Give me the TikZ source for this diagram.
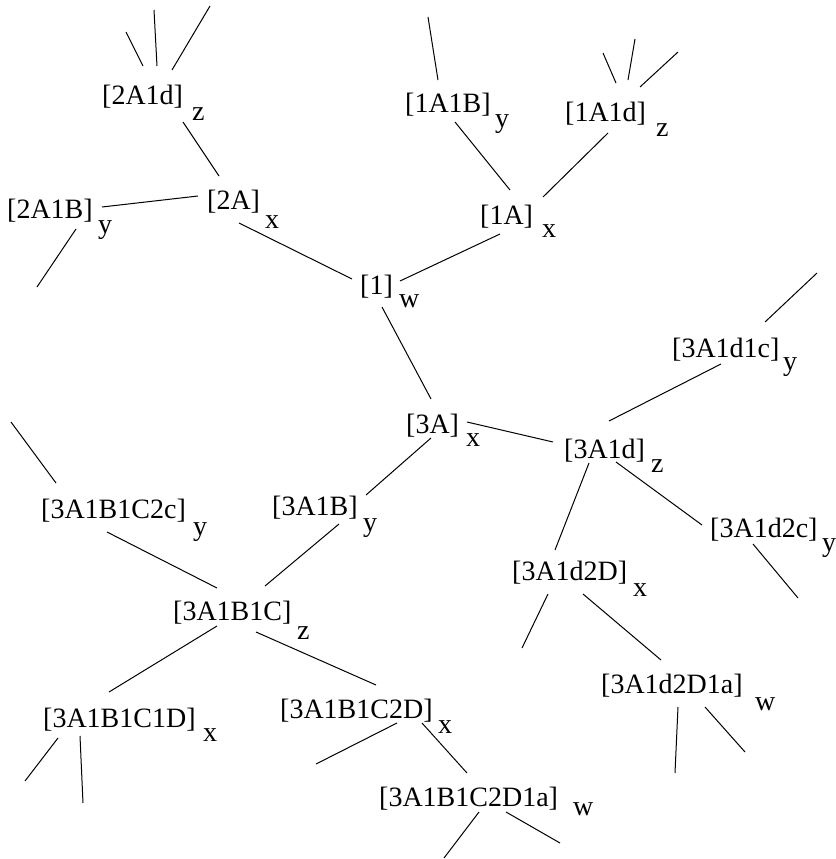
\documentclass[tikz,border=0pt]{standalone}
\usepackage{fontspec}
\setmainfont{Liberation Serif}
\begin{document}
\begin{tikzpicture}[x=1pt,y=-1pt,
  lbl/.style={anchor=base west,inner sep=0pt,font=\fontsize{28}{30}\selectfont},
  edge/.style={line width=1pt}]
\useasboundingbox (0,0) rectangle (835,859);

% vertex labels
\node[lbl] (n1)          at (360,294) {[1]};
\node[lbl] (n1s)         at (399,307) {w};
\node[lbl] (n1A)         at (480,224) {[1A]};
\node[lbl] (n1As)        at (542,237) {x};
\node[lbl] (n2A)         at (207,209) {[2A]};
\node[lbl] (n2As)        at (265,228) {x};
\node[lbl] (n1A1B)       at (405,112) {[1A1B]};
\node[lbl] (n1A1Bs)      at (495,127) {y};
\node[lbl] (n1A1d)       at (565,121) {[1A1d]};
\node[lbl] (n1A1ds)      at (656,136) {z};
\node[lbl] (n2A1d)       at (102,104) {[2A1d]};
\node[lbl] (n2A1ds)      at (192,120) {z};
\node[lbl] (n2A1B)       at (7,218)   {[2A1B]};
\node[lbl] (n2A1Bs)      at (98,233)  {y};
\node[lbl] (n3A)         at (406,433) {[3A]};
\node[lbl] (n3As)        at (466,446) {x};
\node[lbl] (n3A1d)       at (564,458) {[3A1d]};
\node[lbl] (n3A1ds)      at (651,472) {z};
\node[lbl] (n3A1d1c)     at (672,357) {[3A1d1c]};
\node[lbl] (n3A1d1cs)    at (783,370) {y};
\node[lbl] (n3A1d2c)     at (710,537) {[3A1d2c]};
\node[lbl] (n3A1d2cs)    at (822,551) {y};
\node[lbl] (n3A1d2D)     at (512,580) {[3A1d2D]};
\node[lbl] (n3A1d2Ds)    at (633,596) {x};
\node[lbl] (n3A1d2D1a)   at (601,693) {[3A1d2D1a]};
\node[lbl] (n3A1d2D1as)  at (755,710) {w};
\node[lbl] (n3A1B)       at (272,515) {[3A1B]};
\node[lbl] (n3A1Bs)      at (363,531) {y};
\node[lbl] (n3A1B1C)     at (173,620) {[3A1B1C]};
\node[lbl] (n3A1B1Cs)    at (297,639) {z};
\node[lbl] (n3A1B1C2c)   at (41,518)  {[3A1B1C2c]};
\node[lbl] (n3A1B1C2cs)  at (193,535) {y};
\node[lbl] (n3A1B1C1D)   at (43,727)  {[3A1B1C1D]};
\node[lbl] (n3A1B1C1Ds)  at (203,741) {x};
\node[lbl] (n3A1B1C2D)   at (280,718) {[3A1B1C2D]};
\node[lbl] (n3A1B1C2Ds)  at (438,733) {x};
\node[lbl] (n3A1B1C2D1a) at (379,806) {[3A1B1C2D1a]};
\node[lbl] (n3A1B1C2D1as) at (573,815) {w};

% loose ends of the dangling branches
\coordinate (c2A1da) at (126,32);
\coordinate (c2A1db) at (154,10);
\coordinate (c2A1dc) at (210,6);
\coordinate (c2A1Ba) at (37,287);
\coordinate (c1A1Ba) at (428,17);
\coordinate (c1A1da) at (603,53);
\coordinate (c1A1db) at (635,39);
\coordinate (c1A1dc) at (678,52);
\coordinate (c3A1d1ca) at (817,273);
\coordinate (c3A1d2ca) at (798,598);
\coordinate (c3A1d2Da) at (522,648);
\coordinate (c3A1d2D1aa) at (675,773);
\coordinate (c3A1d2D1ab) at (745,752);
\coordinate (c3A1B1C2ca) at (11,422);
\coordinate (c3A1B1C1Da) at (25,781);
\coordinate (c3A1B1C1Db) at (83,803);
\coordinate (c3A1B1C2Da) at (316,764);
\coordinate (c3A1B1C2D1aa) at (444,858);
\coordinate (c3A1B1C2D1ab) at (560,843);

% tree edges
\draw[edge] ([shift={(81,18)}]n2A1d.base west) -- ([shift={(12,-33)}]n2A.base west);
\draw[edge] ([shift={(95,-11)}]n2A1B.base west) -- ([shift={(-9,-13)}]n2A.base west);
\draw[edge] ([shift={(32,14)}]n2A.base west) -- ([shift={(-8,-15)}]n1.base west);
\draw[edge] ([shift={(50,10)}]n1A1B.base west) -- ([shift={(30,-34)}]n1A.base west);
\draw[edge] ([shift={(43,12)}]n1A1d.base west) -- ([shift={(63,-27)}]n1A.base west);
\draw[edge] ([shift={(20,10)}]n1A.base west) -- ([shift={(40,-13)}]n1.base west);
\draw[edge] ([shift={(22,13)}]n1.base west) -- ([shift={(25,-34)}]n3A.base west);
\draw[edge] ([shift={(61,-11)}]n3A.base west) -- ([shift={(-11,-16)}]n3A1d.base west);
\draw[edge] ([shift={(49,7)}]n3A1d1c.base west) -- ([shift={(45,-37)}]n3A1d.base west);
\draw[edge] ([shift={(25,5)}]n3A1d.base west) -- ([shift={(43,-30)}]n3A1d2D.base west);
\draw[edge] ([shift={(52,4)}]n3A1d.base west) -- ([shift={(-8,-12)}]n3A1d2c.base west);
\draw[edge] ([shift={(71,14)}]n3A1d2D.base west) -- ([shift={(60,-33)}]n3A1d2D1a.base west);
\draw[edge] ([shift={(25,5)}]n3A.base west) -- ([shift={(94,-20)}]n3A1B.base west);
\draw[edge] ([shift={(67,9)}]n3A1B.base west) -- ([shift={(92,-34)}]n3A1B1C.base west);
\draw[edge] ([shift={(66,14)}]n3A1B1C2c.base west) -- ([shift={(44,-32)}]n3A1B1C.base west);
\draw[edge] ([shift={(44,6)}]n3A1B1C.base west) -- ([shift={(66,-35)}]n3A1B1C1D.base west);
\draw[edge] ([shift={(83,12)}]n3A1B1C.base west) -- ([shift={(96,-33)}]n3A1B1C2D.base west);
\draw[edge] ([shift={(142,5)}]n3A1B1C2D.base west) -- ([shift={(88,-33)}]n3A1B1C2D1a.base west);

% dangling branches
\draw[edge] ([shift={(41,-38)}]n2A1d.base west) -- (c2A1da);
\draw[edge] ([shift={(55,-38)}]n2A1d.base west) -- (c2A1db);
\draw[edge] ([shift={(70,-34)}]n2A1d.base west) -- (c2A1dc);
\draw[edge] ([shift={(69,11)}]n2A1B.base west) -- (c2A1Ba);
\draw[edge] ([shift={(33,-32)}]n1A1B.base west) -- (c1A1Ba);
\draw[edge] ([shift={(51,-38)}]n1A1d.base west) -- (c1A1da);
\draw[edge] ([shift={(63,-41)}]n1A1d.base west) -- (c1A1db);
\draw[edge] ([shift={(75,-34)}]n1A1d.base west) -- (c1A1dc);
\draw[edge] ([shift={(93,-35)}]n3A1d1c.base west) -- (c3A1d1ca);
\draw[edge] ([shift={(43,7)}]n3A1d2c.base west) -- (c3A1d2ca);
\draw[edge] ([shift={(36,14)}]n3A1d2D.base west) -- (c3A1d2Da);
\draw[edge] ([shift={(77,14)}]n3A1d2D1a.base west) -- (c3A1d2D1aa);
\draw[edge] ([shift={(104,14)}]n3A1d2D1a.base west) -- (c3A1d2D1ab);
\draw[edge] ([shift={(15,-35)}]n3A1B1C2c.base west) -- (c3A1B1C2ca);
\draw[edge] ([shift={(15,11)}]n3A1B1C1D.base west) -- (c3A1B1C1Da);
\draw[edge] ([shift={(37,9)}]n3A1B1C1D.base west) -- (c3A1B1C1Db);
\draw[edge] ([shift={(117,5)}]n3A1B1C2D.base west) -- (c3A1B1C2Da);
\draw[edge] ([shift={(100,6)}]n3A1B1C2D1a.base west) -- (c3A1B1C2D1aa);
\draw[edge] ([shift={(127,6)}]n3A1B1C2D1a.base west) -- (c3A1B1C2D1ab);
\end{tikzpicture}
\end{document}
